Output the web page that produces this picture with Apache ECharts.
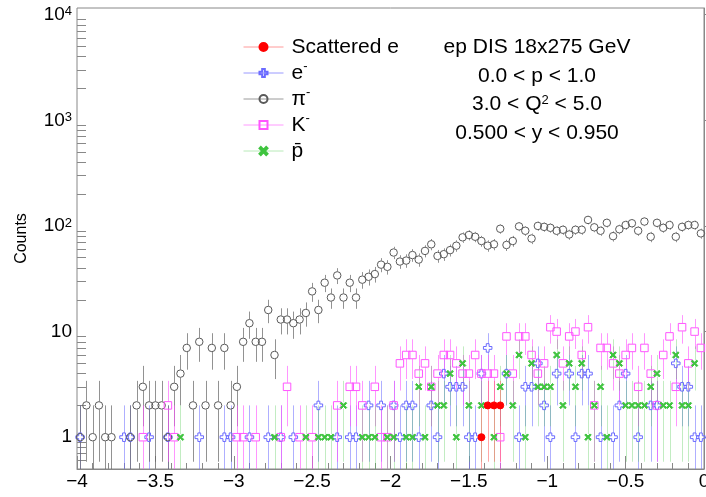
<!DOCTYPE html>
<html><head><meta charset="utf-8">
<script src="https://cdn.jsdelivr.net/npm/echarts@6/dist/echarts.min.js"></script>
<style>html,body{margin:0;padding:0;background:#fff}#c{width:706px;height:497px}</style>
</head><body><div id="c"></div>
<script>
// ---- binning ----
const X_MIN = -4, X_MAX = 0, BIN_WIDTH = 0.04;
const Y_MIN = 0.5, Y_MAX = 11560;

// ---- tick labels ----
const xTickStep = 0.5;
const yTickValues = [1, 10, 100, 1000, 10000];
const yTickLabels = ['1', '10', '10{s|2}', '10{s|3}', '10{s|4}'];
const yMinorTicks = [0.6,0.7,0.8,0.9, 2,3,4,5,6,7,8,9, 20,30,40,50,60,70,80,90,
  200,300,400,500,600,700,800,900, 2000,3000,4000,5000,6000,7000,8000,9000];

// ---- series values (counts per bin, bin 0 = [-4,-3.96]) ----
const pionCounts = [
  1,2,1,2,1,1,0,0,1,2,
  3,2,2,2,1,3,4,7,2,8,
  2,7,2,7,2,3,8,12,8,8,
  16,6,13,13,12,13,15,24,16,29,
  21,34,21,29,21,31,33,35,43,41,
  56,46,47,53,48,58,67,52,54,59,
  65,78,82,79,72,65,67,94,66,72,
  99,90,76,100,98,96,90,92,83,92,
  92,114,97,90,107,80,93,102,106,90,
  110,79,107,96,102,79,98,102,102,85];
const electronCounts = [
  1,0,0,0,0,0,0,1,1,0,
  0,1,0,0,1,0,0,0,0,1,
  0,0,0,1,1,0,0,1,0,0,
  1,0,1,0,1,0,0,0,2,0,
  0,1,0,1,1,0,2,0,2,0,
  2,1,2,2,1,0,2,1,4,3,
  3,3,1,1,4,7,0,0,4,0,
  1,3,3,5,2,1,4,0,4,1,
  4,4,0,1,0,1,2,4,0,1,
  0,2,2,0,0,5,3,3,1,1];
const kaonCounts = [
  0,0,0,0,0,0,0,0,0,0,
  1,0,0,0,2,1,0,0,0,0,
  0,0,0,0,0,1,1,0,1,0,
  0,0,1,3,0,1,0,1,0,0,
  0,2,0,3,3,2,0,3,1,1,
  2,5,6,6,4,5,3,4,6,6,
  5,4,4,6,4,4,4,1,9,4,
  9,9,6,4,5,11,10,5,9,10,
  6,11,2,7,7,5,4,6,7,3,
  7,4,2,6,9,3,11,5,10,7];
const pbarCounts = [
  0,0,0,0,0,0,0,0,0,0,
  0,0,0,0,0,0,1,0,0,0,
  0,0,0,0,0,0,0,0,0,0,
  0,1,0,0,0,0,1,0,1,1,
  1,0,2,0,0,1,1,1,0,1,
  1,0,1,1,3,1,3,2,2,4,
  1,5,2,0,2,0,1,3,4,2,
  6,1,5,3,3,3,6,2,5,3,
  5,1,2,3,1,6,5,2,2,2,
  2,3,4,2,2,6,2,2,5,0];
const scatteredECounts = [
  0,0,0,0,0,0,0,0,0,0, 0,0,0,0,0,0,0,0,0,0,
  0,0,0,0,0,0,0,0,0,0, 0,0,0,0,0,0,0,0,0,0,
  0,0,0,0,0,0,0,0,0,0, 0,0,0,0,0,0,0,0,0,0,
  0,0,0,0,1,2,2,2,0,0, 0,0,0,0,0,0,0,0,0,0,
  0,0,0,0,0,0,0,0,0,0, 0,0,0,0,0,0,0,0,0,0];

const legendNames = ['Scattered e', 'e-', 'pi-', 'K-', 'pbar'];
const legendTexts = {
  'Scattered e': '{t|Scattered e}',
  'e-': '{t|e}{s|-}',
  'pi-': '{t|\u03c0}{s|-}',
  'K-': '{t|K}{s|-}',
  'pbar': '{t|p\u0304}'
};
const infoLines = ['ep DIS 18x275 GeV', '0.0 < p < 1.0', '3.0 < Q{s|2} < 5.0', '0.500 < y < 0.950'];

// ---- build ----
const FONT = 'Liberation Sans, Arial, Helvetica, sans-serif';
function toPoints(counts) {
  const out = [];
  counts.forEach((c, i) => { if (c > 0) out.push([X_MIN + BIN_WIDTH * (i + 0.5), c]); });
  return out;
}
function errSeries(name, counts, color, gap) {
  return {
    type: 'custom', name: name + '_err', z: 1, clip: true, silent: true,
    data: toPoints(counts),
    renderItem: function (params, api) {
      const x = api.value(0), v = api.value(1);
      const e = Math.sqrt(v);
      const lo = Math.max(v - e, Y_MIN);
      const hi = Math.min(v + e, Y_MAX);
      const pc = api.coord([x, v]);
      const pl = api.coord([x, lo]);
      const ph = api.coord([x, hi]);
      const xx = Math.round(pc[0]) + 0.5;
      const ch = [];
      if (pl[1] - pc[1] > gap) ch.push({type: 'line', shape: {x1: xx, y1: pc[1] + gap, x2: xx, y2: pl[1]}, style: {stroke: color, lineWidth: 1}});
      if (pc[1] - ph[1] > gap) ch.push({type: 'line', shape: {x1: xx, y1: pc[1] - gap, x2: xx, y2: ph[1]}, style: {stroke: color, lineWidth: 1}});
      return {type: 'group', children: ch};
    }
  };
}
function markSeries(name, counts, symbol, size, fill, stroke, lineColor, z) {
  return {
    type: 'line', name: name, z: z, data: toPoints(counts),
    symbol: symbol, symbolSize: size, showSymbol: true, showAllSymbol: true,
    lineStyle: {width: 0, opacity: 0, color: lineColor},
    itemStyle: {color: fill, borderColor: stroke, borderWidth: 1},
    emphasis: {disabled: true}, silent: true
  };
}
const crossPath = 'path://M-1,-3L1,-3L1,-1L3,-1L3,1L1,1L1,3L-1,3L-1,1L-3,1L-3,-1L-1,-1Z';
const xPath = 'path://M-3,-2L-2,-3L0,-1L2,-3L3,-2L1,0L3,2L2,3L0,1L-2,3L-3,2L-1,0Z';

const series = [
  errSeries('e-', electronCounts, 'rgba(110,110,255,0.55)', 4),
  errSeries('pi-', pionCounts, 'rgba(100,100,100,0.7)', 4),
  errSeries('K-', kaonCounts, 'rgba(255,80,255,0.6)', 4),
  errSeries('pbar', pbarCounts, 'rgba(80,200,80,0.35)', 3),
  errSeries('Scattered e', scatteredECounts, 'rgba(255,80,80,0.5)', 3),
  markSeries('e-', electronCounts, crossPath, 8.5, 'rgba(0,0,0,0)', '#6b6bff', '#9a9aff', 3),
  markSeries('pi-', pionCounts, 'circle', 7.5, 'rgba(0,0,0,0)', '#5a5a5a', '#9a9a9a', 3),
  markSeries('K-', kaonCounts, 'rect', 7.5, 'rgba(0,0,0,0)', '#ff55ff', '#ff9aff', 3),
  markSeries('pbar', pbarCounts, xPath, 6.5, '#3ec43e', '#3ec43e', '#b8eab8', 4),
  markSeries('Scattered e', scatteredECounts, 'circle', 7, '#ff0000', '#ff0000', '#ff9a9a', 5)
];

const chart = echarts.init(document.getElementById('c'), null, {renderer: 'canvas'});
chart.setOption({
  animation: false,
  backgroundColor: '#fff',
  grid: {left: 77, right: 2, top: 8, bottom: 28, show: true, borderColor: '#888', borderWidth: 1, outerBoundsMode: 'none'},
  xAxis: {
    type: 'value', min: X_MIN, max: X_MAX, interval: xTickStep,
    axisLine: {show: true, lineStyle: {color: '#888', width: 1}},
    axisTick: {show: true, inside: true, length: 13, lineStyle: {color: '#888'}},
    minorTick: {show: true, splitNumber: 5, length: 6, lineStyle: {color: '#888'}},
    splitLine: {show: false},
    axisLabel: {color: '#000', fontSize: 19, fontFamily: FONT, margin: 3,
      formatter: v => (v === 0 ? '0' : (v < 0 ? '\u2212' : '') + String(Math.abs(v)))}
  },
  yAxis: [{
    type: 'log', min: Y_MIN, max: Y_MAX, logBase: 10,
    name: 'Counts', nameLocation: 'middle', nameGap: 47,
    nameTextStyle: {color: '#000', fontSize: 16, fontFamily: FONT},
    axisLine: {show: true, lineStyle: {color: '#888', width: 1}},
    axisTick: {show: true, inside: true, length: 19, customValues: yTickValues, lineStyle: {color: '#888'}},
    splitLine: {show: false},
    axisLabel: {color: '#000', fontSize: 19, fontFamily: FONT, margin: 5, customValues: yTickValues,
      formatter: v => { const k = yTickValues.findIndex(t => Math.abs(t - v) / t < 1e-6); return k >= 0 ? yTickLabels[k] : ''; },
      rich: {s: {fontSize: 13, fontFamily: FONT, color: '#000', verticalAlign: 'top', lineHeight: 12}}}
  }, {
    type: 'log', min: Y_MIN, max: Y_MAX, logBase: 10, position: 'left',
    axisLine: {show: false},
    axisTick: {show: true, inside: true, length: 9, customValues: yMinorTicks, lineStyle: {color: '#888'}},
    axisLabel: {show: false},
    splitLine: {show: false}
  }],
  legend: {
    data: legendNames, orient: 'vertical', left: 243, top: 34, itemGap: 0, padding: 0,
    itemWidth: 40, itemHeight: 10, selectedMode: false,
    lineStyle: {width: 1, opacity: 1},
    formatter: n => legendTexts[n],
    textStyle: {color: '#000', fontSize: 21, fontFamily: FONT, lineHeight: 26, padding: [0, 0, 0, 3],
      rich: {t: {fontSize: 21, fontFamily: FONT, color: '#000', lineHeight: 26},
             s: {fontSize: 13, fontFamily: FONT, color: '#000', verticalAlign: 'top', lineHeight: 16}}}
  },
  graphic: infoLines.map((t, k) => ({
    type: 'text', x: 537, y: [47, 76, 104, 133][k], silent: true,
    style: {text: t, align: 'center', verticalAlign: 'middle', fontSize: 21, fontFamily: FONT, fill: '#000',
      rich: {s: {fontSize: 13, fontFamily: FONT, fill: '#000', verticalAlign: 'top', lineHeight: 14}}}
  })),
  series: series
});
</script></body></html>
